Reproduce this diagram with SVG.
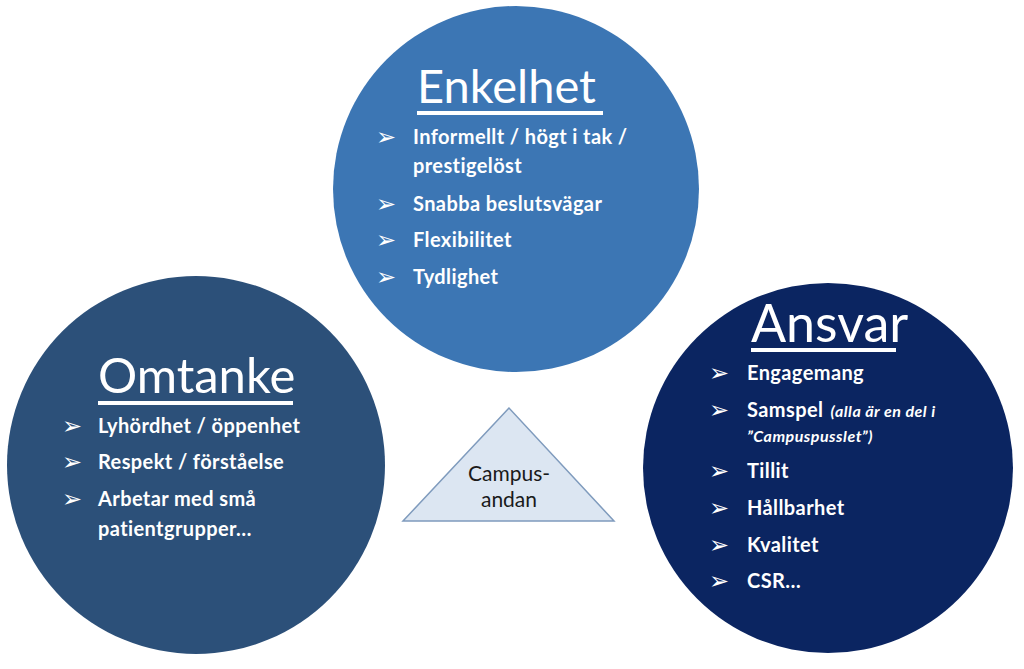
<svg xmlns="http://www.w3.org/2000/svg" width="1024" height="669" viewBox="0 0 1024 669">
<style>
.title{font-family:Lato,"Liberation Sans",sans-serif;fill:#ffffff;text-anchor:start}
.item{font-family:Lato,"Liberation Sans",sans-serif;font-weight:bold;font-size:20px;letter-spacing:0.4px;fill:#ffffff}
.bul{font-family:"DejaVu Sans",sans-serif;font-size:24px;fill:#ffffff}
.ul{fill:#ffffff}
.note{font-family:Lato,"Liberation Sans",sans-serif;font-weight:bold;font-style:italic;font-size:16px;letter-spacing:0.5px;fill:#ffffff}
.tri{font-family:Lato,"Liberation Sans",sans-serif;font-size:21px;fill:#1a1a1a;text-anchor:middle}
</style>
<rect width="1024" height="669" fill="#ffffff"/>
<g id="connectors"/>
<g id="enkelhet">
<circle cx="516" cy="189" r="183" fill="#3c76b4"/>
<text class="title" x="417" y="103" font-size="47">Enkelhet</text>
<rect class="ul" x="417" y="111" width="186" height="4"/>
<text class="bul" x="376" y="145">➢</text>
<text class="item" x="413" y="144">Informellt / högt i tak /</text>
<text class="item" x="413" y="173">prestigelöst</text>
<text class="bul" x="376" y="212">➢</text>
<text class="item" x="413" y="211">Snabba beslutsvägar</text>
<text class="bul" x="376" y="248">➢</text>
<text class="item" x="413" y="247">Flexibilitet</text>
<text class="bul" x="376" y="285">➢</text>
<text class="item" x="413" y="284">Tydlighet</text>
</g>
<g id="omtanke">
<circle cx="196" cy="465" r="189" fill="#2c5079"/>
<text class="title" x="98" y="393" font-size="49">Omtanke</text>
<rect class="ul" x="98" y="401" width="195" height="4"/>
<text class="bul" x="62" y="434">➢</text>
<text class="item" x="98" y="433">Lyhördhet / öppenhet</text>
<text class="bul" x="62" y="470">➢</text>
<text class="item" x="98" y="469">Respekt / förståelse</text>
<text class="bul" x="62" y="507">➢</text>
<text class="item" x="98" y="506">Arbetar med små</text>
<text class="item" x="98" y="536">patientgrupper…</text>
</g>
<g id="ansvar">
<circle cx="828" cy="468" r="185" fill="#0b2561"/>
<text class="title" x="751" y="342" font-size="52">Ansvar</text>
<rect class="ul" x="751" y="348" width="145" height="4"/>
<text class="bul" x="709" y="381">➢</text>
<text class="item" x="747" y="380">Engagemang</text>
<text class="bul" x="709" y="418">➢</text>
<text class="item" x="747" y="417">Samspel <tspan class="note" dx="2">(alla är en del i</tspan></text>
<text class="note" x="747" y="442">”Campuspusslet”)</text>
<text class="bul" x="709" y="479">➢</text>
<text class="item" x="747" y="478">Tillit</text>
<text class="bul" x="709" y="516">➢</text>
<text class="item" x="747" y="515">Hållbarhet</text>
<text class="bul" x="709" y="553">➢</text>
<text class="item" x="747" y="552">Kvalitet</text>
<text class="bul" x="709" y="589">➢</text>
<text class="item" x="747" y="588">CSR…</text>
</g>
<g id="campusandan">
<polygon points="509,408 403,521 614,521" fill="#dce6f2" stroke="#7f9bbd" stroke-width="1.5"/>
<text class="tri" x="509" y="481">Campus-</text>
<text class="tri" x="509" y="507">andan</text>
</g>
</svg>
